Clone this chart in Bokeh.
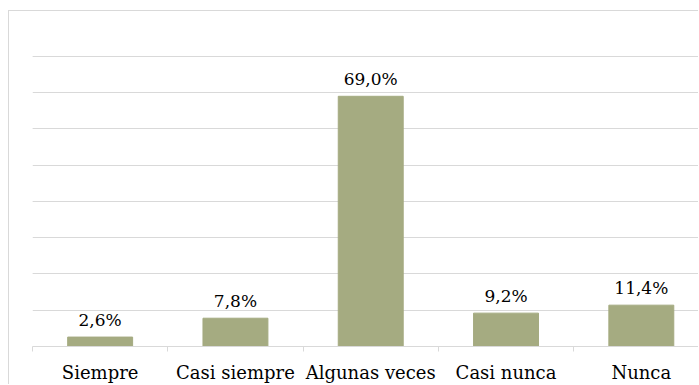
from bokeh.plotting import figure
from bokeh.models import ColumnDataSource, Range1d, FixedTicker, Grid, LabelSet
from bokeh.core.properties import value
from bokeh.embed import file_html
from bokeh.resources import INLINE

# ---- data ----
categories = ["Siempre", "Casi siempre", "Algunas veces", "Casi nunca", "Nunca"]
values = [2.6, 7.8, 69.0, 9.2, 11.4]
grid_ticks = [10, 20, 30, 40, 50, 60, 70, 80]

labels = [f"{v:.1f}%".replace(".", ",") for v in values]
xs = [i + 0.5 for i in range(len(categories))]

src = ColumnDataSource(dict(x=xs, top=values, label=labels))

FONT = "DejaVu Serif"
GRID = "#d9d9d9"

p = figure(width=690, height=374, output_backend="svg", toolbar_location=None,
           x_range=Range1d(0, 4.93), y_range=Range1d(0, 89.9),
           y_axis_location=None, min_border_left=23, min_border_right=0,
           min_border_top=9, min_border_bottom=37,
           margin=(10, 0, 0, 8),
           styles={"border-left": "1px solid #d9d9d9",
                   "border-top": "1px solid #d9d9d9"})
p.outline_line_color = None
p.background_fill_color = "white"
p.border_fill_color = "white"
p.xgrid.visible = False

p.add_layout(Grid(dimension=1, ticker=FixedTicker(ticks=grid_ticks),
                  grid_line_color=GRID, grid_line_width=1))

p.vbar(x="x", top="top", bottom=0, width=0.48, source=src,
       fill_color="#a5ab81", line_color="#a5ab81")

p.add_layout(LabelSet(x="x", y="top", text="label", source=src,
                      text_align="center", text_baseline="bottom", y_offset=7,
                      text_font=value(FONT), text_font_size=value("17px"),
                      text_color="#000000"))

ax = p.xaxis[0]
ax.ticker = FixedTicker(ticks=xs, minor_ticks=list(range(len(categories) + 1)))
ax.major_label_overrides = {x: c for x, c in zip(xs, categories)}
ax.major_tick_out = 0
ax.major_tick_in = 0
ax.minor_tick_out = 5
ax.minor_tick_in = 0
ax.minor_tick_line_color = GRID
ax.axis_line_color = GRID
ax.major_label_standoff = 10
ax.major_label_text_font = FONT
ax.major_label_text_font_size = "18px"
ax.major_label_text_color = "#000000"

open("out.html", "w").write(file_html(p, INLINE))
